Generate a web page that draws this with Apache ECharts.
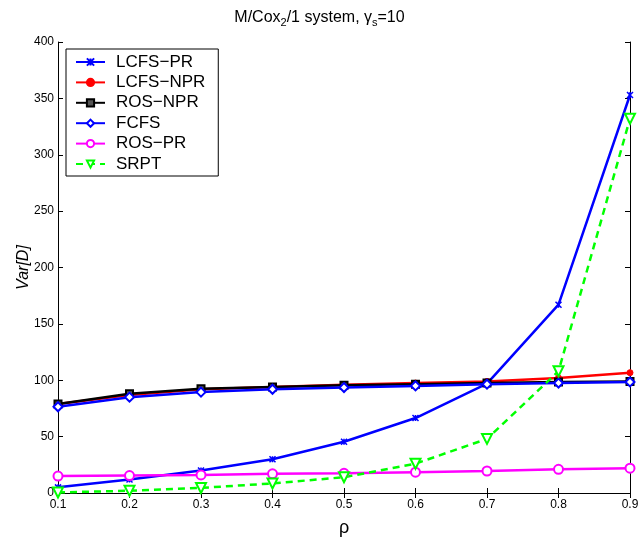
<!DOCTYPE html>
<html>
<head>
<meta charset="utf-8">
<script src="https://cdn.jsdelivr.net/npm/echarts@6/dist/echarts.min.js"></script>
<style>
html,body{margin:0;padding:0;background:#fff;}
#chart{width:639px;height:538px;}
</style>
</head>
<body>
<div id="chart"></div>
<script>
// x categories (rho)
let rhoLabels = ['0.1','0.2','0.3','0.4','0.5','0.6','0.7','0.8','0.9']
let yTicks = [0,50,100,150,200,250,300,350,400]

let lcfsPR  = [5, 12, 20, 30, 45.5, 66.5, 97, 167, 353]
let lcfsNPR = [79, 87, 92, 94, 96, 97.5, 99, 102, 106.7]
let rosNPR  = [79, 88, 92.5, 94, 95.5, 96.5, 97.5, 98.5, 99]
let fcfs    = [76.5, 85, 89.5, 92, 93.5, 95, 96.5, 97.5, 98.5]
let rosPR   = [15, 15.5, 16, 17, 17.5, 18.5, 19.5, 21, 22]
let srpt    = [0.5, 2, 4.5, 8.5, 14, 26, 48, 108, 332]

let font = 'Liberation Sans, Arial, sans-serif'

let chart = echarts.init(document.getElementById('chart'))

function mkSeries(name, data, color, symbol, size, fill, dashed, bw) {
	return {
		name: name,
		type: 'line',
		data: data,
		symbol: symbol,
		symbolSize: size,
		showSymbol: true,
		animation: false,
		lineStyle: { color: color, width: 2.5, type: dashed ? [7,5] : 'solid' },
		itemStyle: { color: fill, borderColor: color, borderWidth: bw }
	}
}

let options = {
	animation: false,
	backgroundColor: '#fff',
	title: {
		text: '{a|M/Cox}{s|2}{a|/1 system, γ}{s|s}{a|=10}',
		left: 'center',
		top: 3,
		textStyle: {
			rich: {
				a: { fontFamily: font, fontSize: 16, fontWeight: 'normal', color: '#000' },
				s: { fontFamily: font, fontSize: 11, fontWeight: 'normal', color: '#000', padding: [9,0,0,0] }
			}
		}
	},
	legend: {
		orient: 'vertical',
		left: 66,
		top: 49,
		padding: [4.5, 13, 3.5, 9],
		itemGap: 3.4,
		itemWidth: 29,
		itemHeight: 9,
		borderColor: '#000',
		borderWidth: 1,
		backgroundColor: '#fff',
		textStyle: { fontFamily: font, fontSize: 17, lineHeight: 17, color: '#000', padding: [0,0,0,6] },
		data: ['LCFS−PR','LCFS−NPR','ROS−NPR','FCFS','ROS−PR','SRPT']
	},
	grid: { left: 58, right: 9, top: 42, bottom: 45, outerBoundsMode: 'none' },
	xAxis: [{
		type: 'category',
		data: rhoLabels,
		boundaryGap: false,
		name: 'ρ',
		nameLocation: 'middle',
		nameGap: 26,
		nameMoveOverlap: false,
		nameTextStyle: { fontFamily: font, fontSize: 18, color: '#000' },
		axisLine: { lineStyle: { color: '#000', width: 1 } },
		axisTick: { inside: true, length: 5, alignWithLabel: true, lineStyle: { color: '#000' } },
		axisLabel: { fontFamily: font, fontSize: 12, color: '#000', margin: 6, interval: 0 },
		splitLine: { show: false }
	}, {
		type: 'category',
		data: rhoLabels,
		boundaryGap: false,
		position: 'top',
		axisLine: { lineStyle: { color: '#000', width: 1 } },
		axisTick: { inside: true, length: 5, interval: 0, lineStyle: { color: '#000' } },
		axisLabel: { show: false },
		splitLine: { show: false }
	}],
	yAxis: [{
		type: 'value',
		min: 0,
		max: 400,
		interval: 50,
		name: 'Var[D]',
		nameLocation: 'middle',
		nameGap: 26,
		nameMoveOverlap: false,
		nameTextStyle: { fontFamily: font, fontSize: 16, fontStyle: 'italic', color: '#000' },
		axisLine: { show: true, lineStyle: { color: '#000', width: 1 } },
		axisTick: { show: true, inside: true, length: 5, lineStyle: { color: '#000' } },
		axisLabel: {
			fontFamily: font, fontSize: 12, color: '#000', margin: 4,
			formatter: function (v) { return yTicks.indexOf(v) >= 0 ? String(v) : '' }
		},
		splitLine: { show: false }
	}, {
		type: 'value',
		min: 0,
		max: 400,
		interval: 50,
		position: 'right',
		axisLine: { show: true, lineStyle: { color: '#000', width: 1 } },
		axisTick: { show: true, inside: true, length: 5, lineStyle: { color: '#000' } },
		axisLabel: { show: false },
		splitLine: { show: false }
	}],
	series: [
		mkSeries('LCFS−PR', lcfsPR, '#0000ff', 'path://M0,0L10,10M10,0L0,10M5,0L5,10', 6, '#0000ff', false, 1.5),
		mkSeries('LCFS−NPR', lcfsNPR, '#ff0000', 'circle', 6, '#ff0000', false, 1),
		mkSeries('ROS−NPR', rosNPR, '#000000', 'rect', 7, '#555555', false, 2),
		mkSeries('FCFS', fcfs, '#0000ff', 'diamond', 9, '#ffffff', false, 2),
		mkSeries('ROS−PR', rosPR, '#ff00ff', 'circle', 9, '#ffffff', false, 2),
		mkSeries('SRPT', srpt, '#00ff00', 'path://M0,0L10,0L5,9Z', 10, '#ffffff', true, 2)
	]
}
chart.setOption(options)
window.addEventListener('resize', () => {
	chart.resize()
})
</script>
</body>
</html>
